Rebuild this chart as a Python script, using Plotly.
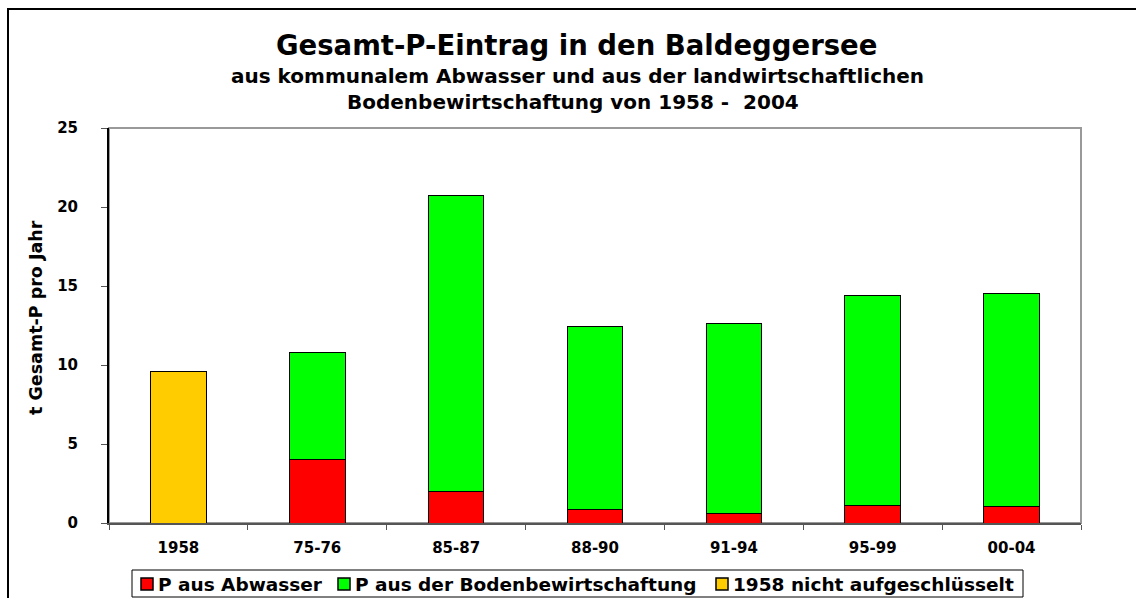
import plotly.graph_objects as go

categories = ["1958", "75-76", "85-87", "88-90", "91-94", "95-99", "00-04"]
abwasser = [None, 4.0, 2.0, 0.85, 0.6, 1.1, 1.05]
boden = [None, 6.8, 18.7, 11.6, 12.05, 13.3, 13.45]
nicht_aufgeschluesselt = [9.6, None, None, None, None, None, None]
y_ticks = [0, 5, 10, 15, 20, 25]
series_names = ["P aus Abwasser", "P aus der Bodenbewirtschaftung", "1958 nicht aufgeschlüsselt"]
series_colors = ["#FF0000", "#00FF00", "#FFCC00"]

FONT = "DejaVu Sans, Verdana, sans-serif"

W, H = 1136, 598
L, R, T, B = 109, 55, 128, 75
pw = W - L - R
ph = H - T - B


def px2x(px):
    return (px - L) / pw


def py2y(py):
    return (H - B - py) / ph


fig = go.Figure()
line = dict(color="black", width=1)
for vals, name, col in zip([abwasser, boden, nicht_aufgeschluesselt], series_names, series_colors):
    fig.add_bar(x=categories, y=vals, name=name, marker=dict(color=col, line=line),
                showlegend=False)

shapes = [
    dict(type="rect", xref="paper", yref="paper", x0=0, x1=1, y0=0, y1=1,
         line=dict(color="#999999", width=2), layer="below"),
    dict(type="rect", xref="paper", yref="paper", x0=px2x(8), x1=px2x(1160),
         y0=py2y(640), y1=py2y(9), line=dict(color="black", width=2), layer="below"),
    # legend box
    dict(type="rect", xref="paper", yref="paper", x0=px2x(132), x1=px2x(1023),
         y0=py2y(597), y1=py2y(570), line=dict(color="black", width=1),
         fillcolor="white", layer="above"),
]
annotations = [
    dict(text="Gesamt-P-Eintrag in den Baldeggersee", xref="paper", yref="paper",
         x=px2x(576), y=py2y(45), xanchor="center", yanchor="middle", showarrow=False,
         font=dict(size=27.5, weight="bold")),
    dict(text="aus kommunalem Abwasser und aus der landwirtschaftlichen", xref="paper", yref="paper",
         x=px2x(577), y=py2y(76), xanchor="center", yanchor="middle", showarrow=False,
         font=dict(size=20, weight="bold")),
    dict(text="Bodenbewirtschaftung von 1958 -  2004", xref="paper", yref="paper",
         x=px2x(573), y=py2y(102), xanchor="center", yanchor="middle", showarrow=False,
         font=dict(size=20, weight="bold")),
    dict(text="t Gesamt-P pro Jahr", xref="paper", yref="paper", textangle=-90,
         x=px2x(36), y=py2y(318), xanchor="center", yanchor="middle", showarrow=False,
         font=dict(size=17.5, weight="bold")),
]

# custom legend (symbol square + label)
legend_sym_x = [141, 338, 716]
for sx, name, col in zip(legend_sym_x, series_names, series_colors):
    shapes.append(dict(type="rect", xref="paper", yref="paper", x0=px2x(sx), x1=px2x(sx + 12),
                       y0=py2y(590), y1=py2y(578), line=dict(color="black", width=1.5),
                       fillcolor=col, layer="above"))
    annotations.append(dict(text=name, xref="paper", yref="paper", x=px2x(sx + 15),
                            y=py2y(584.5), xanchor="left", yanchor="middle", showarrow=False,
                            font=dict(size=18.5, weight="bold")))

fig.update_layout(
    width=W, height=H,
    margin=dict(l=L, r=R, t=T, b=B, autoexpand=False),
    barmode="stack", bargap=0.6,
    paper_bgcolor="white", plot_bgcolor="white",
    font=dict(family=FONT, color="black"),
    showlegend=False,
    xaxis=dict(type="category", showline=True, linecolor="#555555", linewidth=2,
               ticks="outside", tickson="boundaries", ticklen=5, tickcolor="#555555",
               tickfont=dict(size=15, weight="bold"), showgrid=False, automargin=False,
               ticklabelstandoff=10),
    yaxis=dict(range=[0, 25], tickvals=y_ticks, showline=True, linecolor="black", linewidth=2,
               ticks="outside", ticklen=6, tickcolor="#555555", showgrid=False,
               tickfont=dict(size=15, weight="bold"), zeroline=False, automargin=False,
               ticklabelstandoff=20),
    shapes=shapes,
    annotations=annotations,
)

fig.write_html("out.html", config={"displayModeBar": False},
               post_script="document.body.style.margin='0';document.body.style.overflow='hidden';")
